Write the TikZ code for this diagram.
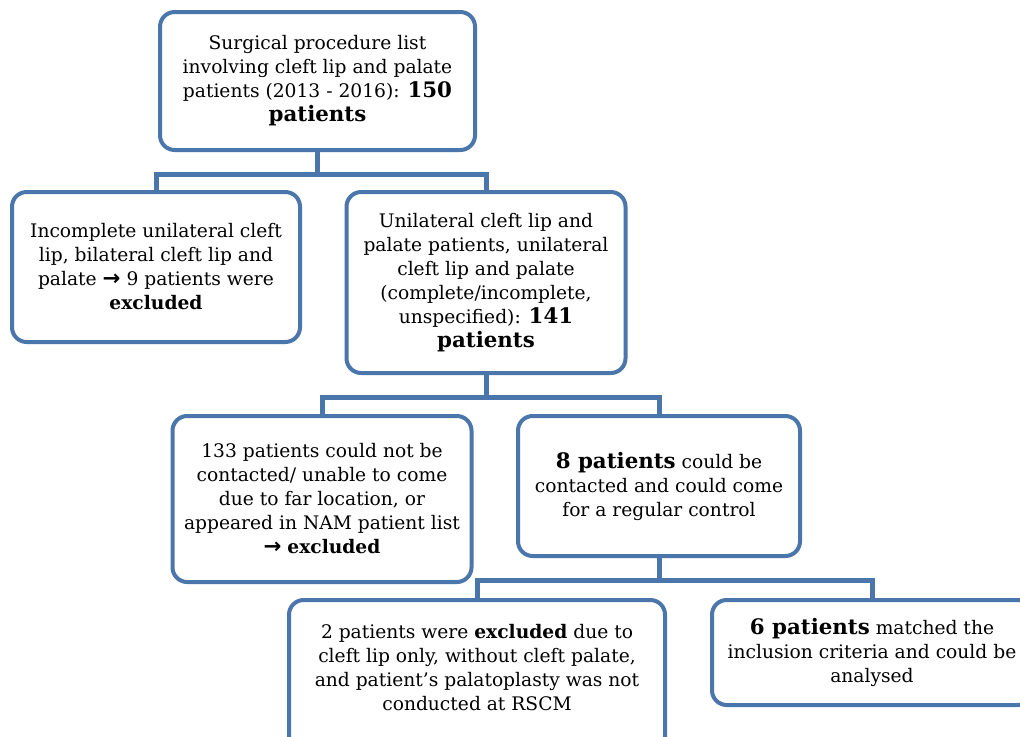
\documentclass[tikz,border=0pt]{standalone}
\usepackage{fontspec}
\setmainfont{DejaVu Serif}
\newfontfamily\arrowfont{DejaVu Sans}
\usetikzlibrary{positioning}
\definecolor{cblue}{HTML}{4A76AC}
\newcommand{\bigbf}[1]{{\fontsize{16}{18}\selectfont\bfseries #1}}
\newcommand{\rarr}{{\arrowfont\fontsize{16}{18}\selectfont\bfseries →}}

\begin{document}
\begin{tikzpicture}[x=0.75pt, y=-0.75pt,
  box/.style 2 args={draw=cblue, line width=3pt, rounded corners=11pt, fill=white,
    align=center, inner sep=0pt, minimum width=#1*0.75pt, minimum height=#2*0.75pt,
    font=\fontsize{14}{18}\selectfont},
  conn/.style={draw=cblue, line width=3.75pt}]
  \useasboundingbox (0,0) rectangle (1020,736);
  \clip (0,0) rectangle (1020,736);
  \fill[white] (0,0) rectangle (1020,736);

  % level 1
  \node[box={315}{138}] (total) at (317.5,81)
    {Surgical procedure list\\ involving cleft lip and palate\\
     patients (2013 - 2016): \bigbf{150}\\ \bigbf{patients}};

  % level 2
  \node[box={288}{150}] (bilat) at (156,267)
    {Incomplete unilateral cleft\\ lip, bilateral cleft lip and\\
     palate \rarr{} 9 patients were\\ \textbf{excluded}};
  \node[box={279}{181}] (unilat) at (486,282.5)
    {Unilateral cleft lip and\\ palate patients, unilateral\\ cleft lip and palate\\
     (complete/incomplete,\\ unspecified): \bigbf{141}\\ \bigbf{patients}};

  % level 3
  \node[box={299}{166}] (nocontact) at (322,499)
    {133 patients could not be\\ contacted/ unable to come\\ due to far location, or\\
     appeared in NAM patient list\\ \rarr{} \textbf{excluded}};
  \node[box={282}{140}] (contact) at (659,486)
    {\bigbf{8 patients} could be\\ contacted and could come\\ for a regular control};

  % level 4 (cut off by the page edge)
  \node[box={376}{154}, text depth=14pt] (cleftlip) at (477,677)
    {2 patients were \textbf{excluded} due to\\ cleft lip only, without cleft palate,\\
     and patient's palatoplasty was not\\ conducted at RSCM};
  \node[box={320}{105}] (analysed) at (872,652.5)
    {\bigbf{6 patients} matched the\\ inclusion criteria and could be\\ analysed};

  % connectors
  \draw[conn] (total.south) -- ++(0,22) -| (bilat.north);
  \draw[conn] (total.south) -- ++(0,22) -| (unilat.north);
  \draw[conn] (unilat.south) -- ++(0,22) -| (nocontact.north);
  \draw[conn] (unilat.south) -- ++(0,22) -| (contact.north);
  \draw[conn] (contact.south) -- ++(0,22) -| (cleftlip.north);
  \draw[conn] (contact.south) -- ++(0,22) -| (analysed.north);
\end{tikzpicture}
\end{document}
